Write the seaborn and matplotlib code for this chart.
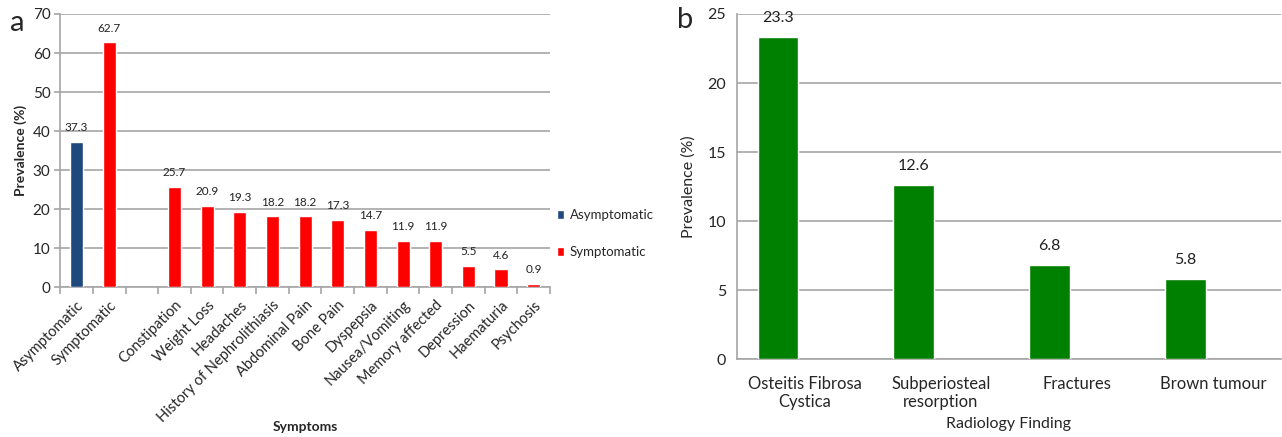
import numpy as np
import pandas as pd
import matplotlib
matplotlib.use("Agg")
import matplotlib.pyplot as plt
import seaborn as sns

# ---------------- data ----------------
symptom_labels = ["Asymptomatic", "Symptomatic", "Constipation", "Weight Loss", "Headaches",
                  "History of Nephrolithiasis", "Abdominal Pain", "Bone Pain", "Dyspepsia",
                  "Nausea/Vomiting", "Memory affected", "Depression", "Haematuria", "Psychosis"]
symptom_values = [37.3, 62.7, 25.7, 20.9, 19.3, 18.2, 18.2, 17.3, 14.7, 11.9, 11.9, 5.5, 4.6, 0.9]
symptom_groups = ["Asymptomatic", "Symptomatic"] + ["Symptomatic"] * 12
group_levels = ["Asymptomatic", "Symptomatic"]
group_colors = ["#1F497D", "#FF0000"]

radiology_labels = ["Osteitis Fibrosa\nCystica", "Subperiosteal\nresorption", "Fractures", "Brown tumour"]
radiology_values = [23.3, 12.6, 6.8, 5.8]
radiology_color = "#008000"

# ---------------- style ----------------
sns.set_theme(style="white")
plt.rcParams['font.family'] = ['Lato', 'DejaVu Sans']
grid_col = "#A6A6A6"

fig = plt.figure(figsize=(12.82, 4.37), dpi=100)
ax1 = fig.add_axes([0.047, 0.343, 0.382, 0.625])
ax2 = fig.add_axes([0.575, 0.178, 0.424, 0.790])

# ---------------- panel a ----------------
df1 = pd.DataFrame({"Symptom": symptom_labels, "Prevalence": symptom_values, "Group": symptom_groups})
order = symptom_labels[:2] + [""] + symptom_labels[2:]
sns.barplot(data=df1, x="Symptom", y="Prevalence", hue="Group", hue_order=group_levels,
            palette=group_colors, order=order, dodge=False, width=0.4, errorbar=None,
            saturation=1, ax=ax1, zorder=3)
for c in ax1.containers:
    ax1.bar_label(c, fmt="%.1f", padding=6, fontsize=8.5, color="#222222")
ax1.set_ylim(0, 70)
ax1.set_yticks(np.arange(0, 71, 10))
ax1.set_xlim(-0.5, len(order) - 0.5)
ax1.yaxis.grid(True, color=grid_col, linewidth=1.2, zorder=0)
ax1.set_axisbelow(True)
for s in ["top", "right"]:
    ax1.spines[s].set_visible(False)
for s in ["left", "bottom"]:
    ax1.spines[s].set_color(grid_col)
    ax1.spines[s].set_linewidth(1.2)
ax1.set_xticks(np.arange(len(order)))
ax1.set_xticklabels(order, rotation=45, ha="right", rotation_mode="anchor", fontsize=10.5)
ax1.set_xticks(np.arange(-0.5, len(order) + 0.5, 1), minor=True)
ax1.tick_params(axis="x", which="major", length=0, pad=8)
ax1.tick_params(axis="x", which="minor", length=5, color=grid_col, width=1.2, direction="out", bottom=True)
ax1.tick_params(axis="y", length=4, color=grid_col, width=1.2, labelsize=11, left=True, pad=3)
ax1.set_xlabel("Symptoms", fontsize=10, fontweight="bold")
ax1.xaxis.set_label_coords(0.5, -0.49)
ax1.set_ylabel("Prevalence (%)", fontsize=10, fontweight="bold", labelpad=4)
handles, labels = ax1.get_legend_handles_labels()
ax1.legend(handles, labels, loc="center left", bbox_to_anchor=(1.0, 0.196), frameon=False,
           handlelength=0.6, handleheight=0.6, handletextpad=0.4, labelspacing=1.9, fontsize=9.5,
           borderaxespad=0.1)

# ---------------- panel b ----------------
df2 = pd.DataFrame({"Finding": radiology_labels, "Prevalence": radiology_values, "Set": "Radiology"})
sns.barplot(data=df2, x="Finding", y="Prevalence", hue="Set", hue_order=["Radiology", "_none"],
            palette=[radiology_color, "#ffffff"], dodge=True, width=0.8, gap=0.25,
            errorbar=None, saturation=1, legend=False, ax=ax2, zorder=3)
for c in ax2.containers:
    ax2.bar_label(c, fmt="%.1f", padding=9, fontsize=11.5, color="#222222")
ax2.set_ylim(0, 25)
ax2.set_yticks(np.arange(0, 26, 5))
ax2.set_xlim(-0.5, len(radiology_labels) - 0.5)
ax2.yaxis.grid(True, color=grid_col, linewidth=1.2, zorder=0)
ax2.set_axisbelow(True)
for s in ["top", "right"]:
    ax2.spines[s].set_visible(False)
for s in ["left", "bottom"]:
    ax2.spines[s].set_color(grid_col)
    ax2.spines[s].set_linewidth(1.2)
ax2.tick_params(axis="x", length=0, labelsize=12, pad=12)
ax2.tick_params(axis="y", length=0, labelsize=11.5, pad=8)
ax2.set_xlabel("Radiology Finding", fontsize=11.5)
ax2.xaxis.set_label_coords(0.5, -0.168)
ax2.set_ylabel("Prevalence (%)", fontsize=11.5, labelpad=8)

# panel letters
fig.text(0.008, 0.93, "a", fontsize=21)
fig.text(0.528, 0.935, "b", fontsize=21)

fig.savefig("out.png", dpi=100)
